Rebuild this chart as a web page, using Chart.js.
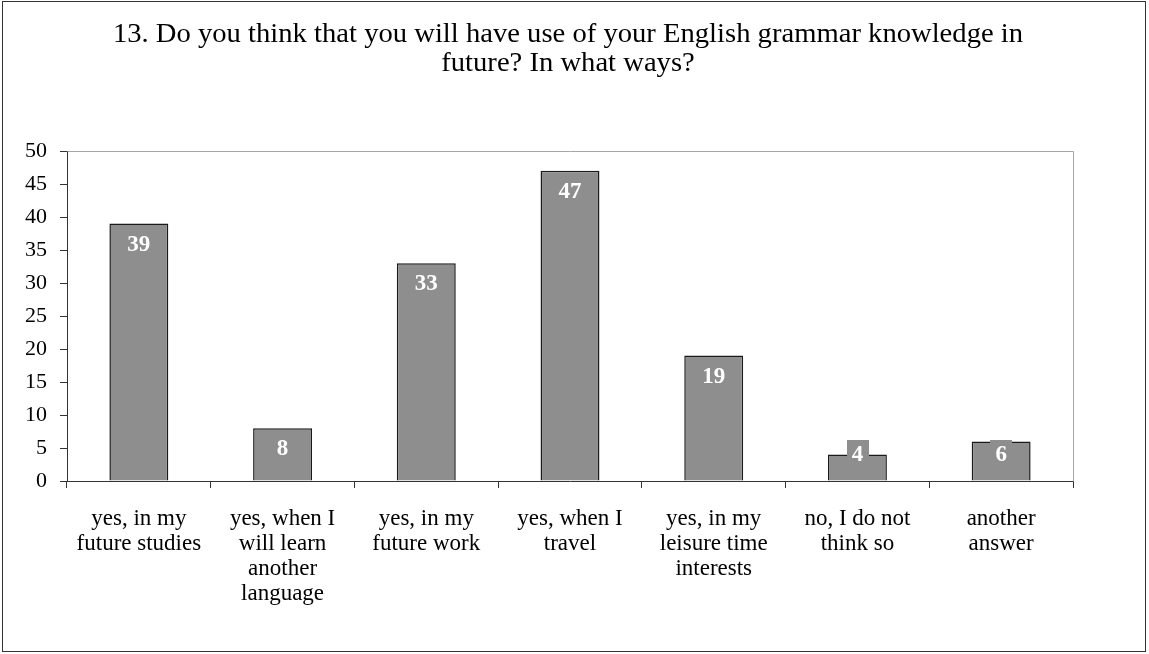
<!DOCTYPE html>
<html>
<head>
<meta charset="utf-8">
<title>English grammar knowledge in future</title>
<script src="https://cdn.jsdelivr.net/npm/chart.js@4.4.1/dist/chart.umd.min.js"></script>
<style>
  html, body { margin: 0; padding: 0; background: #ffffff; }
  #wrap { width: 1149px; height: 654px; position: relative; }
</style>
</head>
<body>
<div id="wrap"><canvas id="chart" width="1149" height="654"></canvas></div>
<script>
// Survey question and answers
const titleLines = [
  '13. Do you think that you will have use of your English grammar knowledge in',
  'future? In what ways?'
];
const categories = [
  ['yes, in my', 'future studies'],
  ['yes, when I', 'will learn', 'another', 'language'],
  ['yes, in my', 'future work'],
  ['yes, when I', 'travel'],
  ['yes, in my', 'leisure time', 'interests'],
  ['no, I do not', 'think so'],
  ['another', 'answer']
];
const answerCounts = [39, 8, 33, 47, 19, 4, 6];
const yMin = 0;
const yMax = 50;
const yStep = 5;

const SERIF = '"Liberation Serif", "Times New Roman", serif';
const BAR_GREY = '#8e8e8e';
const AXIS_DARK = '#333333';

// White page with a thin frame around the whole chart
const framePlugin = {
  id: 'frame',
  beforeDraw(chart) {
    const ctx = chart.ctx;
    ctx.save();
    ctx.fillStyle = '#ffffff';
    ctx.fillRect(0, 0, chart.width, chart.height);
    ctx.restore();
  },
  afterDraw(chart) {
    const ctx = chart.ctx;
    ctx.save();
    ctx.strokeStyle = AXIS_DARK;
    ctx.lineWidth = 1;
    ctx.strokeRect(2.5, 1.5, chart.width - 6, chart.height - 4);
    ctx.restore();
  }
};

// Two-line centred heading, set slightly wide
const headingPlugin = {
  id: 'heading',
  afterDraw(chart) {
    const ctx = chart.ctx;
    ctx.save();
    ctx.font = '27px ' + SERIF;
    ctx.fillStyle = '#000000';
    ctx.textAlign = 'center';
    ctx.textBaseline = 'alphabetic';
    const cx = 568;
    const widen = 1.06;
    const baselines = [42, 71];
    ctx.translate(cx, 0);
    ctx.scale(widen, 1);
    titleLines.forEach((line, i) => ctx.fillText(line, 0, baselines[i]));
    ctx.restore();
  }
};

// Light grey top and right edges of the plot area
const plotEdgePlugin = {
  id: 'plotEdge',
  beforeDatasetsDraw(chart) {
    const { ctx, chartArea: a } = chart;
    ctx.save();
    ctx.strokeStyle = '#a6a6a6';
    ctx.lineWidth = 1;
    ctx.beginPath();
    ctx.moveTo(Math.round(a.left) + 0.5, Math.round(a.top) + 0.5);
    ctx.lineTo(Math.round(a.right) + 0.5, Math.round(a.top) + 0.5);
    ctx.lineTo(Math.round(a.right) + 0.5, Math.round(a.bottom) + 0.5);
    ctx.stroke();
    ctx.restore();
  }
};

// Bold white count inside the top of each bar, on a grey patch
const countLabelPlugin = {
  id: 'countLabels',
  afterDatasetsDraw(chart) {
    const ctx = chart.ctx;
    const meta = chart.getDatasetMeta(0);
    const values = chart.data.datasets[0].data;
    ctx.save();
    ctx.font = 'bold 23px ' + SERIF;
    ctx.textAlign = 'center';
    ctx.textBaseline = 'middle';
    meta.data.forEach((bar, i) => {
      const text = String(values[i]);
      const cy = Math.min(bar.y + 21, bar.base - 25);
      const w = ctx.measureText(text).width + 10;
      const h = 32;
      ctx.fillStyle = BAR_GREY;
      ctx.fillRect(Math.round(bar.x - w / 2), Math.round(cy - h / 2), Math.round(w), h);
      ctx.fillStyle = '#ffffff';
      ctx.fillText(text, bar.x, cy);
    });
    ctx.restore();
  }
};

new Chart(document.getElementById('chart'), {
  type: 'bar',
  data: {
    labels: categories,
    datasets: [{
      data: answerCounts,
      backgroundColor: BAR_GREY,
      borderColor: '#1a1a1a',
      borderWidth: 1.5,
      barPercentage: 0.41,
      categoryPercentage: 1.0
    }]
  },
  options: {
    responsive: false,
    animation: false,
    devicePixelRatio: 1,
    layout: { padding: { top: 151, left: 0, right: 76, bottom: 0 } },
    plugins: {
      legend: { display: false },
      tooltip: { enabled: false },
      title: { display: false }
    },
    scales: {
      x: {
        offset: true,
        grid: {
          offset: true,
          drawOnChartArea: false,
          drawTicks: true,
          tickLength: 7,
          color: AXIS_DARK
        },
        border: { display: true, color: AXIS_DARK, width: 1 },
        ticks: {
          autoSkip: false,
          maxRotation: 0,
          minRotation: 0,
          padding: 18,
          color: '#000000',
          font: { family: SERIF, size: 23, lineHeight: '25px' }
        },
        afterFit(scale) { scale.height = 173; }
      },
      y: {
        min: yMin,
        max: yMax,
        grid: {
          drawOnChartArea: false,
          drawTicks: true,
          tickLength: 7,
          color: AXIS_DARK
        },
        border: { display: true, color: AXIS_DARK, width: 1 },
        ticks: {
          stepSize: yStep,
          padding: 13,
          color: '#000000',
          font: { family: SERIF, size: 22 }
        },
        afterFit(scale) { scale.width = 67; }
      }
    }
  },
  plugins: [framePlugin, plotEdgePlugin, countLabelPlugin, headingPlugin]
});
</script>
</body>
</html>
